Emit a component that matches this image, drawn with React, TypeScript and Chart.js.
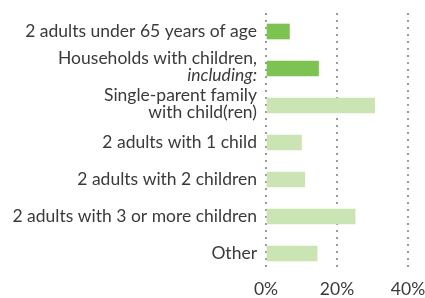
import React, { useEffect, useRef } from "react";
import { Chart, registerables } from "chart.js";

Chart.register(...registerables);

const categories: string[][] = [
  ["2 adults under 65 years of age"],
  ["Households with children,", "including:"],
  ["Single-parent family", "with child(ren)"],
  ["2 adults with 1 child"],
  ["2 adults with 2 children"],
  ["2 adults with 3 or more children"],
  ["Other"],
];
const italicLines: string[] = ["including:"];
const values: number[] = [6.6, 14.8, 30.6, 10.0, 10.9, 25.1, 14.4];
const rowLevel: number[] = [0, 0, 1, 1, 1, 1, 1];
const xTicks: number[] = [0, 20, 40];

const DARK = "#7cc352";
const LIGHT = "#cae4b4";
const TEXT = "#3a3a3a";
const FONT = "Lato";
const FSIZE = 17.5;
const WEIGHT = "400";

export default function App() {
  const ref = useRef<HTMLCanvasElement>(null);
  useEffect(() => {
    document.body.style.margin = "0";
    document.body.style.overflow = "hidden";
    const labelPlugin = {
      id: "ylabels",
      afterDraw(chart: any) {
        const ctx = chart.ctx;
        const ys = chart.scales.y;
        const lh = 17;
        ctx.save();
        ctx.fillStyle = TEXT;
        ctx.textAlign = "right";
        ctx.textBaseline = "middle";
        categories.forEach((lines, i) => {
          const cy = ys.getPixelForValue(i) - (lines.length > 1 ? 2 : 0);
          const y0 = cy - ((lines.length - 1) * lh) / 2;
          lines.forEach((line, j) => {
            const it = italicLines.includes(line);
            ctx.font = `${it ? "italic " : ""}${WEIGHT} ${FSIZE}px ${FONT}`;
            ctx.fillText(line, chart.chartArea.left - 9, y0 + j * lh);
          });
        });
        ctx.restore();
      },
    };
    const chart = new Chart(ref.current!, {
      type: "bar",
      data: {
        labels: categories.map((c) => c.join(" ")),
        datasets: [
          {
            data: values,
            backgroundColor: rowLevel.map((l) => (l === 0 ? DARK : LIGHT)),
            barThickness: 15,
          },
        ],
      },
      options: {
        indexAxis: "y",
        animation: false,
        responsive: false,
        maintainAspectRatio: false,
        layout: { padding: { top: 13, right: 0, left: 0, bottom: 0 } },
        plugins: { legend: { display: false }, tooltip: { enabled: false } },
        scales: {
          x: {
            min: 0,
            max: 40,
            afterBuildTicks: (s: any) => {
              s.ticks = xTicks.map((v) => ({ value: v }));
            },
            afterFit: (s: any) => {
              s.paddingRight = 17;
            },
            ticks: {
              padding: 7,
              color: TEXT,
              font: { family: FONT, size: FSIZE, weight: WEIGHT as any },
              callback: (v: any) => v + "%",
              maxRotation: 0,
            },
            grid: { color: "#9a9a9a", lineWidth: 2, drawTicks: false },
            border: { display: false, dash: [2, 5] },
          },
          y: {
            ticks: { display: false },
            grid: { display: false },
            border: { display: false },
            afterFit: (s: any) => {
              s.width = 266;
            },
          },
        },
      },
      plugins: [labelPlugin],
    });
    return () => chart.destroy();
  }, []);
  return (
    <div style={{ width: 425, height: 307 }}>
      <canvas ref={ref} width={425} height={307} style={{ display: "block" }} />
    </div>
  );
}
